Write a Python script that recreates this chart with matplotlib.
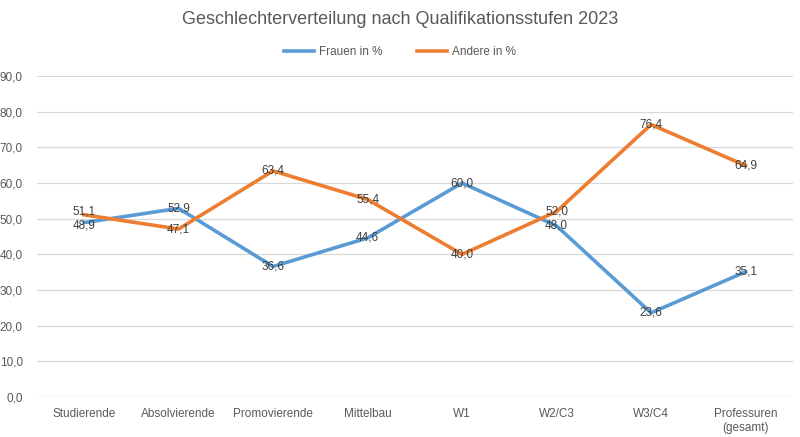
import matplotlib.pyplot as plt

categories = ['Studierende', 'Absolvierende', 'Promovierende', 'Mittelbau',
              'W1', 'W2/C3', 'W3/C4', 'Professuren\n(gesamt)']
frauen = [48.9, 52.9, 36.6, 44.6, 60.0, 48.0, 23.6, 35.1]
andere = [51.1, 47.1, 63.4, 55.4, 40.0, 52.0, 76.4, 64.9]
y_ticks = [0, 10, 20, 30, 40, 50, 60, 70, 80, 90]

plt.rcParams['font.family'] = ['Liberation Sans', 'DejaVu Sans']

fig = plt.figure(figsize=(8, 4.37), dpi=100)
ax = fig.add_axes([0.046, 0.0915, 0.945, 0.7345])

x = list(range(len(categories)))
ax.plot(x, frauen, color='#5B9BD5', linewidth=2.6, label='Frauen in %', zorder=3)
ax.plot(x, andere, color='#ED7D31', linewidth=2.6, label='Andere in %', zorder=3)

# labels sit on the points; push apart where the two series nearly meet
for xi, vf, va in zip(x, frauen, andere):
    df, da = 0, 0
    if abs(vf - va) < 3:
        df = -2 if vf < va else 2
        da = -df
    ax.annotate(f'{vf:.1f}'.replace('.', ','), (xi, vf), xytext=(0, df),
                textcoords='offset points', ha='center', va='center',
                fontsize=8.5, color='#404040', zorder=4)
    ax.annotate(f'{va:.1f}'.replace('.', ','), (xi, va), xytext=(0, da),
                textcoords='offset points', ha='center', va='center',
                fontsize=8.5, color='#404040', zorder=4)

ax.set_xlim(-0.5, len(categories) - 0.5)
ax.set_ylim(0, 90)
ax.set_yticks(y_ticks)
ax.set_yticklabels([f'{t:.1f}'.replace('.', ',') for t in y_ticks])
ax.set_xticks(x)
ax.set_xticklabels(categories)
ax.tick_params(axis='both', length=0, labelsize=8.5, colors='#595959')
ax.tick_params(axis='x', pad=8)
ax.tick_params(axis='y', pad=10)
ax.grid(axis='y', color='#D9D9D9', linewidth=0.9)
ax.set_axisbelow(True)
for s in ax.spines.values():
    s.set_visible(False)
ax.axhline(0, color='#D9D9D9', linewidth=0.9, zorder=1)

fig.text(0.5, 0.955, 'Geschlechterverteilung nach Qualifikationsstufen 2023',
         ha='center', va='center', fontsize=13, color='#595959')
fig.legend(loc='center', bbox_to_anchor=(0.5, 0.88), ncol=2, frameon=False,
           fontsize=8.5, labelcolor='#595959', handlelength=2.5,
           columnspacing=3, handletextpad=0.4)

fig.savefig('out.png', dpi=100)
